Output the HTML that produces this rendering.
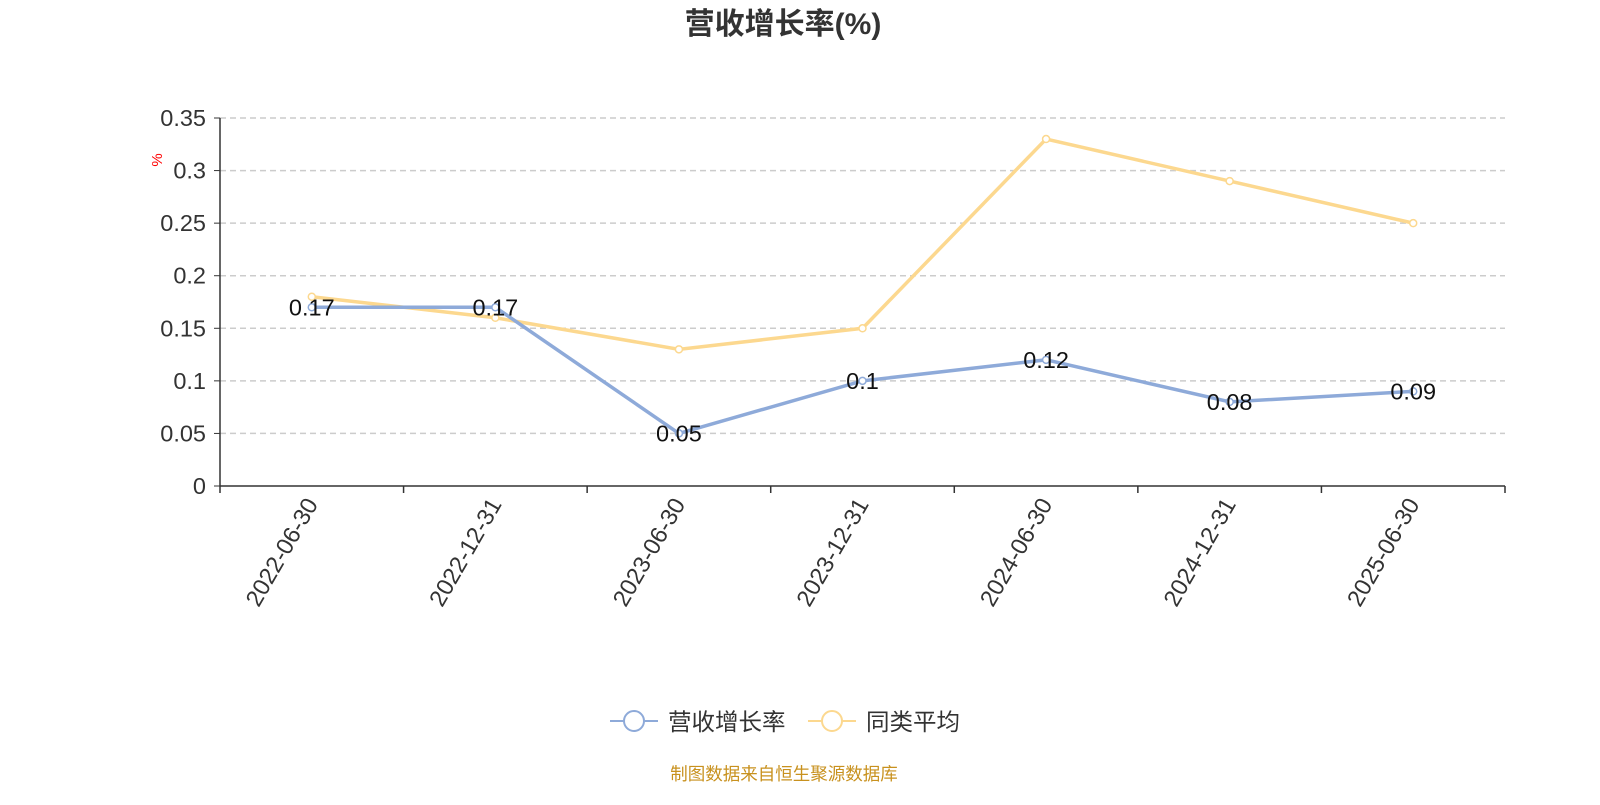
<!DOCTYPE html>
<html><head><meta charset="utf-8"><style>
body{margin:0;background:#fff;width:1600px;height:800px;overflow:hidden;font-family:"Liberation Sans","Noto Sans CJK SC",sans-serif}
</style></head><body>
<svg id="chart" width="1600" height="800" xmlns="http://www.w3.org/2000/svg" font-family="Liberation Sans, Noto Sans CJK SC, sans-serif">
<text x="783" y="34" text-anchor="middle" font-size="30" font-weight="bold" fill="#333">营收增长率(%)</text>
<text x="162" y="160" font-size="15" fill="red" transform="rotate(-90 162 160)" text-anchor="middle">%</text>
<g id="grid"></g><g id="axes"></g><g id="series"></g>
<g>
<g>
<line x1="610" y1="721" x2="658" y2="721" stroke="#8eaad9" stroke-width="2"/><circle cx="634" cy="721" r="10" fill="#fff" stroke="#8eaad9" stroke-width="2"/>
<text x="668" y="730" font-size="23.5" fill="#333">营收增长率</text></g>
<g>
<line x1="808" y1="721" x2="856" y2="721" stroke="#fcd88f" stroke-width="2"/><circle cx="832" cy="721" r="10" fill="#fff" stroke="#fcd88f" stroke-width="2"/>
<text x="866" y="730" font-size="23.5" fill="#333">同类平均</text></g>
</g>
<text x="784" y="780" text-anchor="middle" font-size="17.5" fill="#c8911e">制图数据来自恒生聚源数据库</text>
</svg>
<script>
const categories=["2022-06-30","2022-12-31","2023-06-30","2023-12-31","2024-06-30","2024-12-31","2025-06-30"];
const growthValues=[0.17,0.17,0.05,0.1,0.12,0.08,0.09];
const peerValues=[0.18,0.16,0.13,0.15,0.33,0.29,0.25];
const yTicks=[0,0.05,0.1,0.15,0.2,0.25,0.3,0.35];
const NS="http://www.w3.org/2000/svg";
const x0=220,x1=1505,yBase=486,yTop=118,yMax=0.35;
const bw=(x1-x0)/categories.length;
const xPos=i=>x0+bw*(i+0.5);
const yPos=v=>yBase-(v/yMax)*(yBase-yTop);
function mk(tag,attrs,parent){const e=document.createElementNS(NS,tag);for(const k in attrs)e.setAttribute(k,attrs[k]);parent.appendChild(e);return e;}
const grid=document.getElementById('grid'),axes=document.getElementById('axes'),series=document.getElementById('series');
yTicks.forEach(v=>{
 const y=yPos(v);
 if(v>0){const g=mk('line',{x1:x0,x2:x1,y1:y,y2:y,stroke:'#ccc','stroke-dasharray':'6,4','stroke-width':1.5},grid);
 
 }
 mk('line',{x1:x0-6,x2:x0,y1:y,y2:y,stroke:'#333'},axes);
 const t=mk('text',{x:x0-14,y:y+8,'text-anchor':'end','font-size':23.5,fill:'#333'},axes);t.textContent=String(v);
 
 
});
const ya=mk('line',{x1:x0,x2:x0,y1:yTop,y2:yBase,stroke:'#333','stroke-width':1.5},axes);


const xa=mk('line',{x1:x0,x2:x1,y1:yBase,y2:yBase,stroke:'#333','stroke-width':1.5},axes);


for(let i=0;i<=categories.length;i++){const x=x0+bw*i;mk('line',{x1:x,x2:x,y1:yBase,y2:yBase+7,stroke:'#333','stroke-width':1.5},axes);}
categories.forEach((c,i)=>{
 const x=xPos(i),y=yBase+14;
 const t=mk('text',{x:x,y:y+8,'text-anchor':'end','font-size':23.5,fill:'#333',transform:`rotate(-60 ${x} ${y})`},axes);t.textContent=c;
 
 
});
function drawSeries(vals,color,name,labels){
 const pts=vals.map((v,i)=>xPos(i)+','+yPos(v)).join(' ');
 const pl=mk('polyline',{points:pts,fill:'none',stroke:color,'stroke-width':3.5},series);
 
 
 vals.forEach((v,i)=>{
  const c=mk('circle',{cx:xPos(i),cy:yPos(v),r:3.5,fill:'#fff',stroke:color,'stroke-width':1.5},series);
  
  
  if(labels){const t=mk('text',{x:xPos(i),y:yPos(v)+8,'text-anchor':'middle','font-size':23.5,fill:'#111'},series);t.textContent=String(v);
  
  }
 });
}
drawSeries(peerValues,'#fcd88f','peer-average',false);
drawSeries(growthValues,'#8eaad9','revenue-growth',true);
</script>
</body></html>
